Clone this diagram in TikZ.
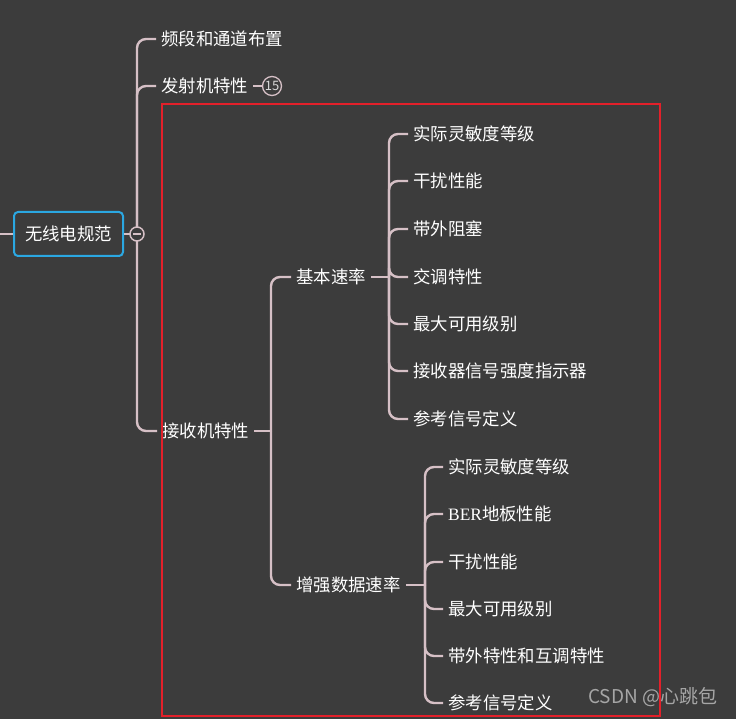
\documentclass[tikz,border=0pt]{standalone}
\usepackage{fontspec}
\newfontfamily\cjk{Noto Sans CJK SC}
\newfontfamily\serifB{Liberation Serif}
\usetikzlibrary{calc}
\definecolor{bgc}{HTML}{3C3C3C}
\definecolor{conc}{HTML}{D6C0C6}
\definecolor{rootc}{HTML}{2BA8E2}
\definecolor{redc}{HTML}{E3202A}
\definecolor{wmc}{HTML}{A6A6A6}
\tikzset{
  lbl/.style={font=\cjk\fontsize{17.4}{20}\selectfont, text=white, inner xsep=5pt, inner ysep=2pt, anchor=west},
  conn/.style={draw=conc, line width=2.4pt, rounded corners=9pt},
  stub/.style={draw=conc, line width=2.4pt},
}
\begin{document}
\begin{tikzpicture}[x=1pt,y=-1pt]
\fill[bgc] (0,0) rectangle (736,719);
\useasboundingbox (0,0) rectangle (736,719);

% root
\node[draw=rootc, line width=2pt, rounded corners=4pt, fill=bgc, font=\cjk\fontsize{17.4}{20}\selectfont, text=white,
      minimum width=109pt, minimum height=44pt, inner sep=0pt] (root) at (68.5,234) {无线电规范};
\coordinate (lft) at (0,234);
\draw[stub] (lft) -- (root.west);

% level 1
\node[lbl] (a1) at (156,39) {频段和通道布置};
\node[lbl] (a2) at (156,86) {发射机特性};
\node[lbl] (a3) at (157,431) {接收机特性};
\coordinate (tr) at (137,234);
\foreach \c in {a1,a2,a3} \draw[conn] (tr) |- (\c.west);
\draw[stub] (root.east) -- (tr);
\node[circle, draw=conc, line width=1.5pt, fill=bgc, minimum size=14pt, inner sep=0pt] (col) at (tr) {};
\draw[draw=conc, line width=1.5pt] ([xshift=-4pt]col.center) -- ([xshift=4pt]col.center);

% badge
\node[circle, draw=conc, line width=1.3pt, fill=bgc, minimum size=19pt, inner sep=0pt,
      font=\cjk\fontsize{13}{13}\selectfont, text=white!85!black] (badge) at (272,86) {15};
\draw[stub] (a2.east) -- (badge.west);

% level 2
\node[lbl] (b1) at (291,277) {基本速率};
\node[lbl] (b2) at (291,585) {增强数据速率};
\coordinate (j3) at (271,431);
\draw[stub] (a3.east) -- (j3);
\foreach \c in {b1,b2} \draw[conn] (j3) |- (\c.west);

% level 3 under b1
\coordinate (j4) at (389,277);
\draw[stub] (b1.east) -- (j4);
\node[lbl] (c1) at (408,134) {实际灵敏度等级};
\node[lbl] (c2) at (408,181) {干扰性能};
\node[lbl] (c3) at (408,229) {带外阻塞};
\node[lbl] (c4) at (408,277) {交调特性};
\node[lbl] (c5) at (408,324) {最大可用级别};
\node[lbl] (c6) at (408,371) {接收器信号强度指示器};
\node[lbl] (c7) at (408,419) {参考信号定义};
\foreach \c in {c1,c2,c3,c4,c5,c6,c7} \draw[conn] (j4) |- (\c.west);

% level 3 under b2
\coordinate (j5) at (425,585);
\draw[stub] (b2.east) -- (j5);
\node[lbl] (d1) at (443,467) {实际灵敏度等级};
\node[lbl] (d2) at (443,514) {{\serifB BER}地板性能};
\node[lbl] (d3) at (443,562) {干扰性能};
\node[lbl] (d4) at (443,609) {最大可用级别};
\node[lbl] (d5) at (443,656) {带外特性和互调特性};
\node[lbl] (d6) at (443,703) {参考信号定义};
\foreach \c in {d1,d2,d3,d4,d5,d6} \draw[conn] (j5) |- (\c.west);

% red frame
\draw[draw=redc, line width=2pt] (162,104) rectangle (660,716);

% watermark
\node[font=\cjk\fontsize{19}{22}\selectfont, text=wmc, anchor=west, inner sep=0pt] (wm) at (588,697) {CSDN @心跳包};
\end{tikzpicture}
\end{document}
